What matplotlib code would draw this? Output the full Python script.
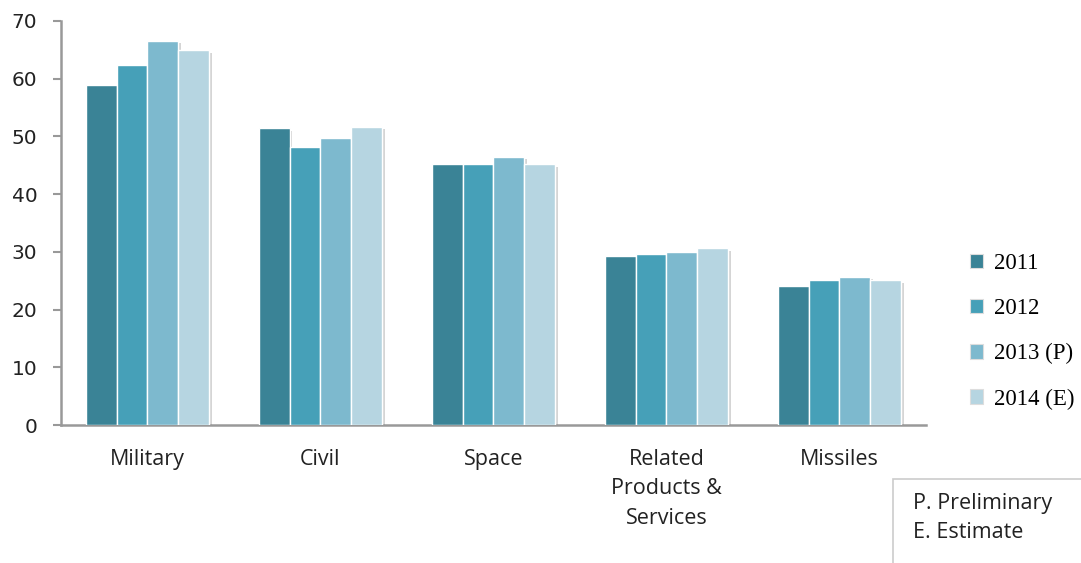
import numpy as np
import matplotlib.pyplot as plt
import matplotlib.patheffects as pe
from matplotlib.patches import Patch, Rectangle

categories = ['Military', 'Civil', 'Space', 'Related\nProducts &\nServices', 'Missiles']
years = ['2011', '2012', '2013 (P)', '2014 (E)']
v2011 = [58.9, 51.4, 45.2, 29.3, 24.1]
v2012 = [62.4, 48.2, 45.2, 29.6, 25.1]
v2013 = [66.6, 49.8, 46.5, 29.9, 25.7]
v2014 = [65.0, 51.7, 45.2, 30.6, 25.1]
notes = ['P. Preliminary', 'E. Estimate']

colors = ['#3a8396', '#46a0b8', '#7db9ce', '#b6d5e1']
series = [v2011, v2012, v2013, v2014]

fig = plt.figure(figsize=(10.81, 5.63), dpi=100)
ax = fig.add_axes([0.0564, 0.2451, 0.8002, 0.7176])

x = np.arange(len(categories))
w = 0.178
shadow = [pe.SimplePatchShadow(offset=(2, -2), shadow_rgbFace='#888888', alpha=0.35), pe.Normal()]
for i, (vals, c) in enumerate(zip(series, colors)):
    bars = ax.bar(x + (i - 1.5) * w, vals, w, color=c, edgecolor='white', linewidth=1, zorder=3)
    for b in bars:
        b.set_path_effects(shadow)

ax.set_xlim(-0.5, 4.5)
ax.set_ylim(0, 70)
ax.set_yticks(range(0, 71, 10))
ax.set_xticks(x)
ax.set_xticklabels(categories, family='Open Sans', fontsize=15.5, color='#222222', linespacing=1.55)
ax.tick_params(axis='x', length=0, pad=17)
ax.tick_params(axis='y', length=6, width=1.5, color='#999999', pad=11, labelsize=14.5, labelcolor='#222222')

for s in ['top', 'right']:
    ax.spines[s].set_visible(False)
for s in ['left', 'bottom']:
    ax.spines[s].set_color('#999999')
    ax.spines[s].set_linewidth(1.8)

handles = [Patch(facecolor=c, edgecolor='#dddddd', linewidth=0.8) for c in colors]
fig.legend(handles, years, loc='upper left', bbox_to_anchor=(0.878, 0.587),
           frameon=False, prop={'family': 'Liberation Serif', 'size': 16.5},
           handlelength=0.6, handleheight=0.6, handletextpad=0.45, labelspacing=1.05)

# note box in the lower right corner
fig.patches.append(Rectangle((0.826, -0.05), 0.2, 0.2, transform=fig.transFigure,
                             facecolor='white', edgecolor='#cccccc', linewidth=1.2))
fig.text(0.845, 0.106, notes[0], family='Open Sans', fontsize=15.5, color='#222222', va='center')
fig.text(0.845, 0.055, notes[1], family='Open Sans', fontsize=15.5, color='#222222', va='center')

fig.savefig('out.png', dpi=100)
